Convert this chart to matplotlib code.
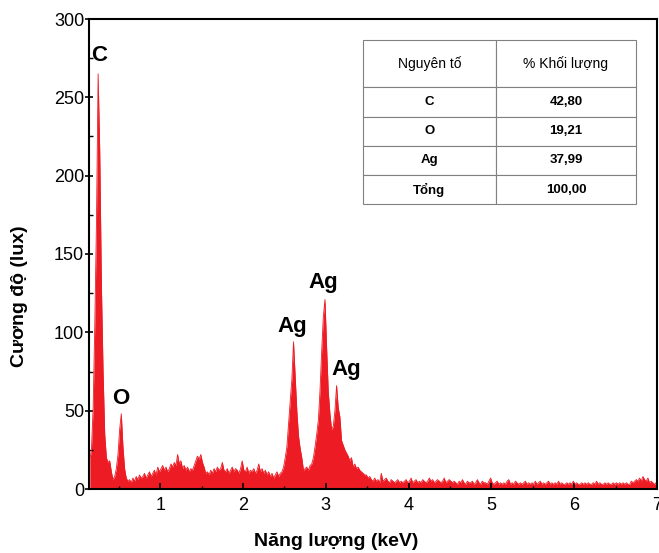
import numpy as np
from matplotlib import pyplot as plt
from matplotlib.ticker import MultipleLocator

plt.rcParams['font.family'] = ['Liberation Sans', 'DejaVu Sans']

# EDS spectrum, counts, one channel every 0.02 keV from 0.15 keV
e_start = 0.15
e_step = 0.02
counts = [
    18, 26, 52, 105, 170, 265, 215, 130, 75, 35,      # 0.15
    20, 17, 18, 11, 6, 8, 13, 22, 38, 48,             # 0.35
    27, 13, 7, 5, 6, 4, 7, 5, 8, 6,                   # 0.55
    9, 7, 8, 10, 7, 9, 11, 8, 10, 12,                 # 0.75
    9, 14, 11, 13, 15, 12, 14, 11, 13, 16,            # 0.95
    14, 17, 15, 22, 16, 18, 13, 15, 12, 14,           # 1.15
    11, 13, 12, 15, 18, 21, 19, 22, 17, 14,           # 1.35
    10, 11, 9, 12, 10, 13, 11, 14, 12, 13,            # 1.55
    17, 12, 11, 13, 10, 12, 14, 11, 13, 12,           # 1.75
    10, 13, 18, 12, 11, 14, 10, 12, 11, 13,           # 1.95
    10, 12, 16, 11, 13, 10, 12, 9, 11, 8,             # 2.15
    10, 7, 9, 11, 8, 10, 11, 14, 20, 27,              # 2.35
    42, 56, 70, 94, 72, 50, 34, 26, 20, 12,           # 2.55
    13, 14, 12, 15, 16, 20, 27, 35, 44, 63,           # 2.75
    88, 110, 121, 90, 62, 48, 38, 40, 50, 66,         # 2.95
    52, 46, 31, 28, 25, 23, 21, 18, 20, 14,           # 3.15
    16, 13, 14, 12, 11, 10, 9, 9, 7, 8,               # 3.35
    6, 5, 7, 5, 6, 4, 10, 5, 6, 7,                    # 3.55
    5, 4, 6, 5, 4, 5, 6, 4, 5, 4,                     # 3.75
    5, 6, 4, 5, 7, 4, 5, 6, 4, 5,                     # 3.95
    4, 6, 5, 4, 5, 7, 5, 6, 4, 5,                     # 4.15
    6, 5, 4, 5, 7, 4, 5, 6, 5, 4,                     # 4.35
    5, 4, 3, 5, 4, 6, 4, 3, 5, 4,                     # 4.55
    4, 5, 3, 4, 6, 4, 3, 5, 4, 4,                     # 4.75
    3, 5, 7, 4, 3, 4, 5, 3, 4, 3,                     # 4.95
    4, 3, 5, 6, 3, 4, 3, 5, 4, 3,                     # 5.15
    4, 3, 4, 5, 3, 4, 3, 4, 3, 5,                     # 5.35
    3, 4, 5, 3, 4, 3, 4, 5, 3, 4,                     # 5.55
    3, 4, 3, 5, 3, 4, 3, 3, 4, 3,                     # 5.75
    4, 3, 5, 3, 4, 3, 3, 4, 3, 4,                     # 5.95
    3, 4, 3, 3, 4, 3, 5, 3, 4, 3,                     # 6.15
    3, 4, 3, 4, 3, 3, 4, 3, 4, 3,                     # 6.35
    4, 3, 4, 3, 4, 3, 3, 5, 4, 5,                     # 6.55
    6, 5, 7, 5, 8, 6, 5, 7, 4, 5,                     # 6.75
    4, 3, 4,                                          # 6.95
]
energy = np.round(e_start + e_step * np.arange(len(counts)), 2)

# peak labels
peak_names = ["C", "O", "Ag", "Ag", "Ag"]
peak_x = [0.26, 0.527, 2.60, 2.966, 3.245]
peak_y = [277, 58, 104, 132, 76]

# composition table
tbl_header = ["Nguyên tố", "% Khối lượng"]
tbl_elements = ["C", "O", "Ag", "Tổng"]
tbl_mass = ["42,80", "19,21", "37,99", "100,00"]

red = "#ed1c24"

fig = plt.figure(figsize=(6.59, 5.53), dpi=100)
ax = fig.add_axes([89/659, 64/553, 568/659, 470/553])

ax.fill_between(energy, 0, counts, color=red, linewidth=0)
ax.plot(energy, counts, color=red, linewidth=0.6)

for name, x, y in zip(peak_names, peak_x, peak_y):
    ax.text(x, y, name, fontsize=16, fontweight="bold", ha="center", va="center")

ax.set_xlim(0.14, 7)
ax.set_ylim(0, 300)
ax.xaxis.set_major_locator(MultipleLocator(1))
ax.xaxis.set_minor_locator(MultipleLocator(0.5))
ax.yaxis.set_major_locator(MultipleLocator(50))
ax.yaxis.set_minor_locator(MultipleLocator(25))
ax.tick_params(axis="x", which="major", direction="in", length=4, width=1.2, labelsize=13, pad=6)
ax.tick_params(axis="x", which="minor", direction="in", length=2.5, width=1)
ax.tick_params(axis="y", which="major", direction="inout", length=6, width=1.2, labelsize=13, pad=0.5)
ax.tick_params(axis="y", which="minor", direction="in", length=3, width=1)
for sp in ax.spines.values():
    sp.set_linewidth(1.5)

ax.set_xlabel("Năng lượng (keV)", fontsize=14, fontweight="bold")
ax.xaxis.set_label_coords(0.435, -0.093)
ax.set_ylabel("Cương độ (lux)", fontsize=14, fontweight="bold")
ax.yaxis.set_label_coords(-0.108, 0.41)

rows = [[el, m] for el, m in zip(tbl_elements, tbl_mass)]
tab = ax.table(cellText=rows, colLabels=tbl_header, colWidths=[133, 140],
               cellLoc="center", bbox=[0.482, 0.606, 0.481, 0.349])
tab.auto_set_font_size(False)
for (r, c), cell in tab.get_celld().items():
    cell.set_edgecolor("#808080")
    cell.set_linewidth(0.8)
    if r == 0:
        cell.set_height(47)
        cell.get_text().set_fontsize(10)
    else:
        cell.set_height(29)
        cell.get_text().set_fontsize(9.5)
        cell.get_text().set_fontweight("bold")

plt.savefig("out.png", dpi=100)
